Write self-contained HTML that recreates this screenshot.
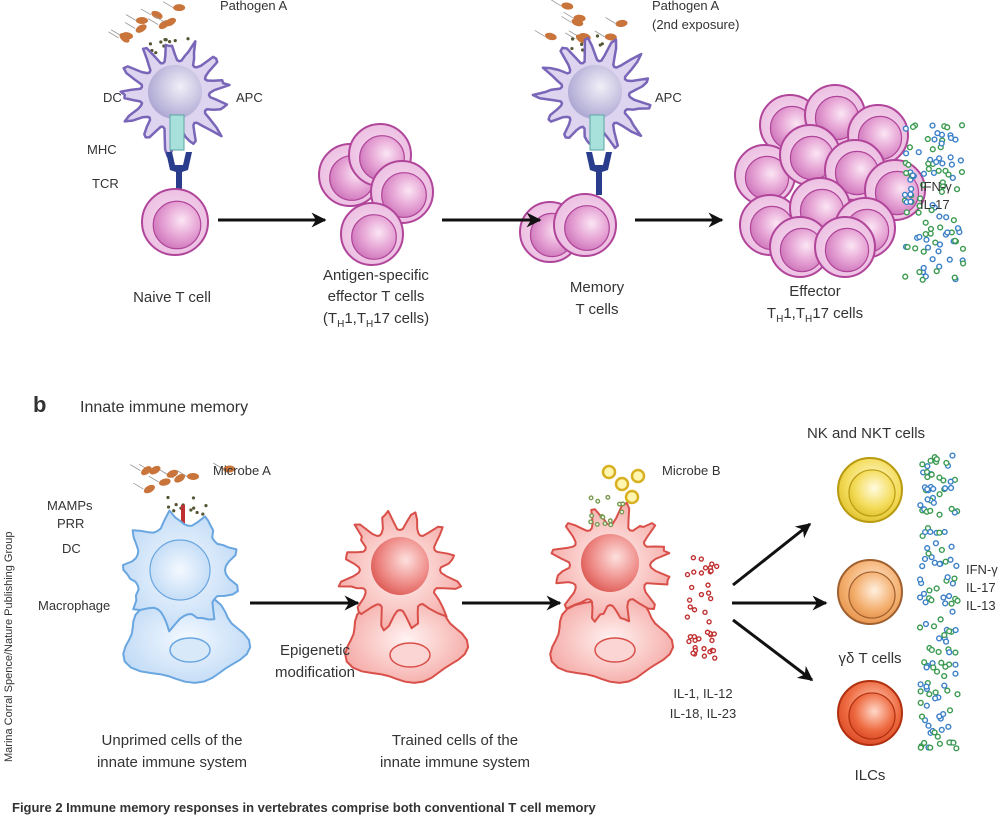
<!DOCTYPE html>
<html><head><meta charset="utf-8">
<style>
html,body{margin:0;padding:0;background:#fff;}
svg{display:block;}
text{font-family:"Liberation Sans",Arial,sans-serif;fill:#333;}
</style></head>
<body>
<svg id="s" width="1000" height="816" viewBox="0 0 1000 816" xmlns="http://www.w3.org/2000/svg">
<defs>
<radialGradient id="pk" cx="0.6" cy="0.4" r="0.7"><stop offset="0" stop-color="#fbe6f4"/><stop offset="0.5" stop-color="#e7a6d6"/><stop offset="1" stop-color="#c96cb5"/></radialGradient>
<radialGradient id="pkc" cx="0.5" cy="0.5" r="0.6"><stop offset="0" stop-color="#f8e2f2"/><stop offset="1" stop-color="#eab8df"/></radialGradient>
<radialGradient id="lv" cx="0.6" cy="0.4" r="0.7"><stop offset="0" stop-color="#f1eff8"/><stop offset="1" stop-color="#a6a0cf"/></radialGradient>
<radialGradient id="rd" cx="0.6" cy="0.4" r="0.7"><stop offset="0" stop-color="#fde0de"/><stop offset="0.6" stop-color="#ee8a86"/><stop offset="1" stop-color="#d9504a"/></radialGradient>
<radialGradient id="rdc" cx="0.5" cy="0.5" r="0.6"><stop offset="0" stop-color="#fff3f2"/><stop offset="1" stop-color="#f4a4a0"/></radialGradient>
<radialGradient id="bl" cx="0.5" cy="0.5" r="0.6"><stop offset="0" stop-color="#f4f9ff"/><stop offset="1" stop-color="#bcd8f5"/></radialGradient>
<radialGradient id="ye" cx="0.55" cy="0.4" r="0.7"><stop offset="0" stop-color="#fffbe0"/><stop offset="0.6" stop-color="#f4dc5a"/><stop offset="1" stop-color="#d9b820"/></radialGradient>
<radialGradient id="or" cx="0.55" cy="0.4" r="0.7"><stop offset="0" stop-color="#fff0e0"/><stop offset="0.6" stop-color="#f4b070"/><stop offset="1" stop-color="#e08a40"/></radialGradient>
<radialGradient id="rr" cx="0.55" cy="0.4" r="0.7"><stop offset="0" stop-color="#ffd8c8"/><stop offset="0.6" stop-color="#ee6a40"/><stop offset="1" stop-color="#d2401e"/></radialGradient>
<marker id="ah" viewBox="0 0 10 10" refX="9" refY="5" markerWidth="5" markerHeight="5" orient="auto"><path d="M0,0L10,5L0,10L3,5Z" fill="#111"/></marker>
</defs>
<g id="dyn"></g>

<g stroke="#111" stroke-width="3" fill="none" marker-end="url(#ah)">
<line x1="218" y1="220" x2="325" y2="220"/>
<line x1="442" y1="220" x2="540" y2="220"/>
<line x1="635" y1="220" x2="722" y2="220"/>
<line x1="250" y1="603" x2="358" y2="603"/>
<line x1="462" y1="603" x2="560" y2="603"/>
<line x1="733" y1="585" x2="810" y2="524"/>
<line x1="732" y1="603" x2="826" y2="603"/>
<line x1="733" y1="620" x2="812" y2="680"/>
</g>

<g font-size="13">
<text x="220" y="10">Pathogen A</text>
<text x="103" y="102">DC</text>
<text x="236" y="102">APC</text>
<text x="87" y="154">MHC</text>
<text x="92" y="188">TCR</text>
<text x="652" y="10">Pathogen A</text>
<text x="652" y="29">(2nd exposure)</text>
<text x="655" y="102">APC</text>
<text x="920" y="191">IFN-γ</text>
<text x="920" y="209">IL-17</text>
</g>
<g font-size="15" text-anchor="middle" fill="#222">
<text x="172" y="302">Naive T cell</text>
<text x="376" y="280">Antigen-specific</text>
<text x="376" y="301">effector T cells</text>
<text x="376" y="323">(T<tspan font-size="10" dy="4">H</tspan><tspan dy="-4">1,T</tspan><tspan font-size="10" dy="4">H</tspan><tspan dy="-4">17 cells)</tspan></text>
<text x="597" y="292">Memory</text>
<text x="597" y="314">T cells</text>
<text x="815" y="296">Effector</text>
<text x="815" y="318">T<tspan font-size="10" dy="4">H</tspan><tspan dy="-4">1,T</tspan><tspan font-size="10" dy="4">H</tspan><tspan dy="-4">17 cells</tspan></text>
</g>

<text x="33" y="412" font-size="22" font-weight="bold" fill="#111">b</text>
<text x="80" y="412" font-size="16">Innate immune memory</text>
<text transform="translate(12,762) rotate(-90)" font-size="11" fill="#666">Marina Corral Spence/Nature Publishing Group</text>

<g font-size="13">
<text x="213" y="475">Microbe A</text>
<text x="47" y="510">MAMPs</text>
<text x="57" y="528">PRR</text>
<text x="62" y="553">DC</text>
<text x="38" y="610">Macrophage</text>
<text x="662" y="475">Microbe B</text>
<text x="703" y="698" text-anchor="middle">IL-1, IL-12</text>
<text x="703" y="718" text-anchor="middle">IL-18, IL-23</text>
<text x="966" y="574">IFN-γ</text>
<text x="966" y="592">IL-17</text>
<text x="966" y="610">IL-13</text>
</g>
<g font-size="15" text-anchor="middle" fill="#222">
<text x="315" y="655">Epigenetic</text>
<text x="315" y="677">modification</text>
<text x="172" y="745">Unprimed cells of the</text>
<text x="172" y="767">innate immune system</text>
<text x="455" y="745">Trained cells of the</text>
<text x="455" y="767">innate immune system</text>
<text x="866" y="438">NK and NKT cells</text>
<text x="870" y="663">γδ T cells</text>
<text x="870" y="780">ILCs</text>
</g>
<text x="12" y="812" font-size="13" font-weight="bold" fill="#444">Figure 2  Immune memory responses in vertebrates comprise both conventional T cell memory</text>
</svg>
<script>
(function(){
var NS="http://www.w3.org/2000/svg",g=document.getElementById('dyn');
function el(t,a){var e=document.createElementNS(NS,t);for(var k in a)e.setAttribute(k,a[k]);g.appendChild(e);return e;}
var seed=7;function r(){seed=(seed*9301+49297)%233280;return seed/233280;}
function spiky(cx,cy,R,n,amp,fill,stroke,sw){var d="";var N=n*8;for(var i=0;i<=N;i++){var a=i/N*Math.PI*2;var ph=(i%8)/8;var s=Math.pow(Math.max(0,Math.sin(ph*Math.PI)),3);var rr=R+amp*s*(0.6+0.6*r());d+=(i?"L":"M")+(cx+rr*Math.cos(a)).toFixed(1)+","+(cy+rr*Math.sin(a)).toFixed(1);}el('path',{d:d+"Z",fill:fill,stroke:stroke,'stroke-width':sw,'stroke-linejoin':'round'});}
function blob(cx,cy,rx,ry,fill,stroke){var d="";for(var i=0;i<=40;i++){var a=i/40*Math.PI*2;var k=1+0.08*Math.sin(a*5+1)+0.05*Math.sin(a*3);d+=(i?"L":"M")+(cx+rx*k*Math.cos(a)).toFixed(1)+","+(cy+ry*k*Math.sin(a)).toFixed(1);}el('path',{d:d+"Z",fill:fill,stroke:stroke,'stroke-width':2});}
function tcell(x,y,R,fo,fi,st){el('circle',{cx:x,cy:y,r:R,fill:fo,stroke:st,'stroke-width':2});el('circle',{cx:x+2,cy:y+3,r:R*0.72,fill:fi,stroke:st,'stroke-width':1.2});}
function dots(x0,x1,y0,y1,n,cols,rad){for(var i=0;i<n;i++){var x=x0+r()*(x1-x0),y=y0+r()*(y1-y0);el('circle',{cx:x,cy:y,r:rad,fill:'#fff',stroke:cols[i%cols.length],'stroke-width':1.4});}}
function pathogens(cx,cy){for(var i=0;i<8;i++){var x=cx-45+r()*90,y=cy-15+r()*35;el('ellipse',{cx:x,cy:y,rx:6,ry:3.5,fill:'#c8743a',transform:'rotate('+(r()*90-45)+' '+x+' '+y+')'});el('line',{x1:x-6,y1:y,x2:x-16,y2:y-6,stroke:'#999','stroke-width':0.8});}for(var j=0;j<12;j++)el('circle',{cx:cx-20+r()*45,cy:cy+15+r()*20,r:1.6,fill:'#553'});}
pathogens(165,20);
spiky(175,95,34,13,24,'#ddd4ef','#7a66b8',2.5);
el('circle',{cx:175,cy:92,r:27,fill:'url(#lv)'});
el('rect',{x:170,y:115,width:14,height:35,fill:'#a8e0dc',stroke:'#5aa6a2'});
el('path',{d:"M166,152 L170,170 L176,172 L176,195 L182,195 L182,172 L188,170 L192,152 L186,152 L183,165 L175,165 L172,152Z",fill:'#2a3c8c'});
tcell(175,222,33,'url(#pkc)','url(#pk)','#b0459a');
[[350,175],[380,155],[402,192],[372,234]].forEach(function(p){tcell(p[0],p[1],31,'url(#pkc)','url(#pk)','#b0459a');});
pathogens(585,20);
spiky(595,95,34,13,24,'#ddd4ef','#7a66b8',2.5);
el('circle',{cx:595,cy:92,r:27,fill:'url(#lv)'});
el('rect',{x:590,y:115,width:14,height:35,fill:'#a8e0dc',stroke:'#5aa6a2'});
el('path',{d:"M586,152 L590,170 L596,172 L596,195 L602,195 L602,172 L608,170 L612,152 L606,152 L603,165 L595,165 L592,152Z",fill:'#2a3c8c'});
tcell(550,232,30,'url(#pkc)','url(#pk)','#b0459a');
tcell(585,225,31,'url(#pkc)','url(#pk)','#b0459a');
[[790,125],[835,115],[878,135],[765,175],[810,155],[855,170],[895,190],[770,225],[820,208],[865,228],[800,247],[845,247]].forEach(function(p){tcell(p[0],p[1],30,'url(#pkc)','url(#pk)','#b0459a');});
dots(905,965,125,280,110,['#3a7fc8','#3a9a50'],2.4);
pathogens(185,480);
el('line',{x1:183,y1:505,x2:183,y2:530,stroke:'#c03030','stroke-width':4});
blob(185,640,60,42,'url(#bl)','#6aa6e0');
el('ellipse',{cx:190,cy:650,rx:20,ry:12,fill:'#d8eafa',stroke:'#6aa6e0','stroke-width':1.5});
spiky(180,570,45,9,16,'url(#bl)','#6aa6e0',2);
el('circle',{cx:180,cy:570,r:30,fill:'url(#bl)',stroke:'#6aa6e0','stroke-width':1.2});
blob(405,640,58,42,'url(#rdc)','#d9504a');
el('ellipse',{cx:410,cy:655,rx:20,ry:12,fill:'#fbd5d3',stroke:'#d9504a','stroke-width':1.5});
spiky(400,570,40,12,22,'url(#rdc)','#d9504a',2);
el('circle',{cx:400,cy:566,r:29,fill:'url(#rd)'});
blob(610,640,58,42,'url(#rdc)','#d9504a');
el('ellipse',{cx:615,cy:650,rx:20,ry:12,fill:'#fbd5d3',stroke:'#d9504a','stroke-width':1.5});
spiky(610,565,40,12,22,'url(#rdc)','#d9504a',2);
el('circle',{cx:610,cy:563,r:29,fill:'url(#rd)'});
[[609,472],[622,484],[638,476],[632,497]].forEach(function(p){el('circle',{cx:p[0],cy:p[1],r:6,fill:'#fff6b0',stroke:'#d8b020','stroke-width':2.5});});
dots(590,625,497,525,14,['#7a9a50'],1.8);
dots(687,718,557,660,42,['#c03030'],2);
tcell(870,490,32,'url(#ye)','url(#ye)','#b89a10');
tcell(870,592,32,'url(#or)','url(#or)','#a06030');
tcell(870,713,32,'url(#rr)','url(#rr)','#b03010');
dots(920,958,455,752,150,['#3a7fc8','#3a9a50'],2.4);
})();
</script>
</body></html>
